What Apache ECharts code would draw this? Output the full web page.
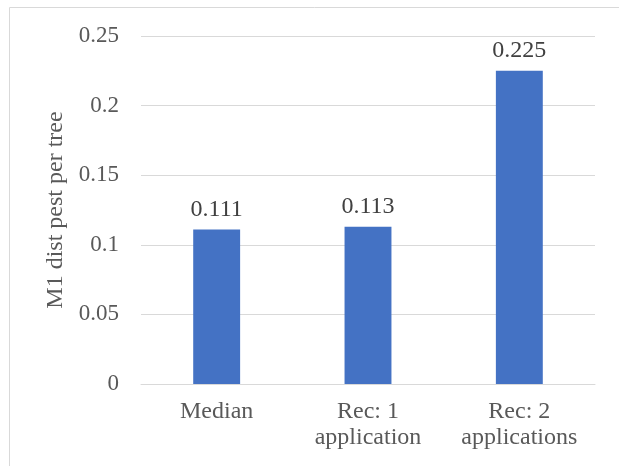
<!DOCTYPE html>
<html><head><meta charset="utf-8">
<script src="https://cdn.jsdelivr.net/npm/echarts@6/dist/echarts.min.js"></script>
<style>html,body{margin:0;padding:0;background:#fff}#c{width:619px;height:466px}</style>
</head><body><div id="c"></div>
<script>
const categories = ['Median', 'Rec: 1\napplication', 'Rec: 2\napplications'];
const values = [0.111, 0.113, 0.225];
const yTicks = [0, 0.05, 0.1, 0.15, 0.2, 0.25];
const yTitle = 'M1 dist pest per tree';

const font = 'Liberation Serif';
const textColor = '#595959';
const chart = echarts.init(document.getElementById('c'));
chart.setOption({
  animation: false,
  graphic: [{
    type: 'rect', shape: {x: 9.5, y: 7.5, width: 640, height: 500},
    style: {fill: 'none', stroke: '#d9d9d9', lineWidth: 1}, silent: true
  }],
  grid: {left: 141, right: 24, top: 36, bottom: 82, containLabel: false},
  xAxis: {
    type: 'category', data: categories,
    axisLine: {lineStyle: {color: '#d9d9d9', width: 1}},
    axisTick: {show: false},
    axisLabel: {color: textColor, fontFamily: font, fontSize: 24, lineHeight: 26, margin: 15}
  },
  yAxis: {
    type: 'value', min: 0, max: 0.25, interval: 0.05,
    name: yTitle, nameLocation: 'middle', nameGap: 71,
    nameTextStyle: {color: textColor, fontFamily: font, fontSize: 24},
    axisLine: {show: false}, axisTick: {show: false},
    splitLine: {lineStyle: {color: '#d9d9d9', width: 1}},
    axisLabel: {color: textColor, fontFamily: font, fontSize: 23, margin: 22,
      formatter: v => { const m = yTicks.find(t => Math.abs(t - v) < 1e-9); return String(m !== undefined ? m : v); }}
  },
  series: [{
    type: 'bar', data: values, barWidth: '31%',
    itemStyle: {color: '#4472C4'},
    label: {show: true, position: 'top', distance: 8, color: '#404040', fontFamily: font, fontSize: 24,
      formatter: p => String(p.value)}
  }]
});
</script></body></html>
